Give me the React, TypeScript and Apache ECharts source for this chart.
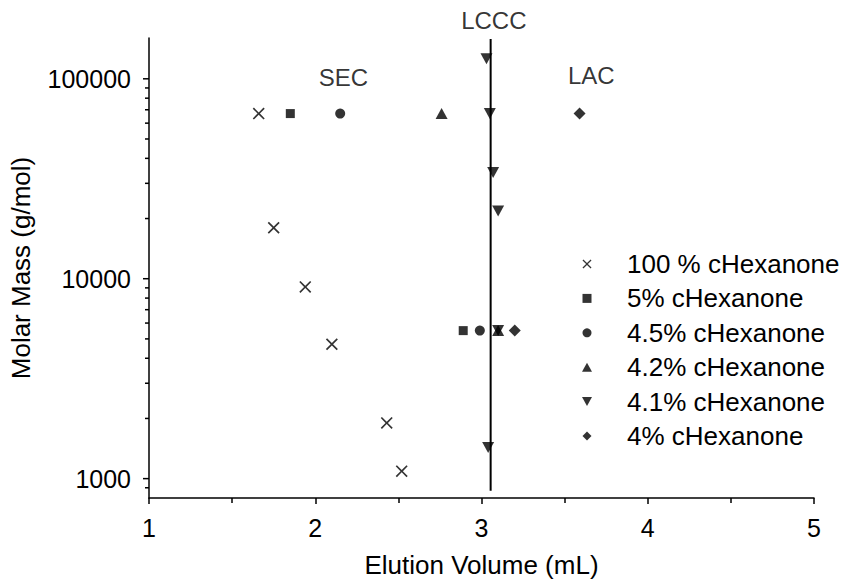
import React, { useEffect, useRef } from "react";
import * as echarts from "echarts";

// ---- data ----
const hex100: number[][] = [[1.66, 67000], [1.75, 18000], [1.94, 9100], [2.10, 4700], [2.43, 1900], [2.52, 1090]];
const hex5: number[][] = [[1.85, 67000], [2.89, 5500]];
const hex45: number[][] = [[2.15, 67000], [2.99, 5500]];
const hex42: number[][] = [[2.76, 67000], [3.10, 5500]];
const hex41: number[][] = [[3.03, 126000], [3.05, 67000], [3.07, 34000], [3.10, 21800], [3.10, 5500], [3.04, 1430]];
const hex4: number[][] = [[3.59, 67000], [3.20, 5500]];
const lcccLine: number[][] = [[3.055, 870], [3.055, 158000]];
const annotations = [
  { name: "SEC", value: [2.17, 102000] },
  { name: "LCCC", value: [3.074, 195000] },
  { name: "LAC", value: [3.66, 104000] },
];
const seriesNames = ["100 % cHexanone", "5% cHexanone", "4.5% cHexanone", "4.2% cHexanone", "4.1% cHexanone", "4% cHexanone"];
const yMajorTicks = [1000, 10000, 100000];
const yMinorTicks = [900, 2000, 3000, 4000, 5000, 6000, 7000, 8000, 9000, 20000, 30000, 40000, 50000, 60000, 70000, 80000, 90000];

const FONT = "'Liberation Sans', Arial, Helvetica, sans-serif";
const SYM_X = "path://M0,1L1,0L5,4L9,0L10,1L6,5L10,9L9,10L5,6L1,10L0,9L4,5Z";
const SYM_SQ = "path://M0,0L10,0L10,10L0,10Z";
const SYM_UP = "path://M5,0L10,9L0,9Z";
const SYM_DN = "path://M0,0L10,0L5,9Z";
const SYM_DI = "path://M5,0L10,5L5,10L0,5Z";

export default function App() {
  const ref = useRef<HTMLDivElement>(null);
  useEffect(() => {
    if (!ref.current) return;
    const chart = echarts.init(ref.current, undefined, { renderer: "svg" });
    const scat = (name: string, data: number[][], symbol: string, size: number | number[]) => ({
      type: "scatter",
      name,
      data,
      symbol,
      symbolSize: size,
      itemStyle: { color: "#000" },
      z: 5,
    });
    const tickData = [
      ...yMajorTicks.map((v) => [1, v, 1]),
      ...yMinorTicks.map((v) => [1, v, 0]),
    ];
    chart.setOption({
      animation: false,
      backgroundColor: "#fff",
      textStyle: { fontFamily: FONT, color: "#000" },
      grid: { left: 148, right: 27, top: 38, bottom: 82, containLabel: false },
      legend: {
        orient: "vertical",
        left: 577,
        top: 246,
        itemWidth: 70,
        itemHeight: 9,
        itemGap: 8.4,
        data: seriesNames,
        textStyle: { fontSize: 26, fontFamily: FONT, color: "#000" },
      },
      xAxis: {
        type: "value",
        min: 1,
        max: 5,
        interval: 1,
        name: "Elution Volume (mL)",
        nameLocation: "middle",
        nameGap: 54,
        nameTextStyle: { fontSize: 26, fontFamily: FONT, color: "#000" },
        axisLine: { show: true, onZero: false, lineStyle: { color: "#000", width: 1.5 } },
        axisTick: { show: true, inside: false, length: 6, lineStyle: { color: "#000", width: 1.5 } },
        minorTick: { show: true, splitNumber: 2, length: 5, lineStyle: { color: "#000", width: 1.5 } },
        axisLabel: { fontSize: 25, fontFamily: FONT, color: "#000", margin: 17 },
        splitLine: { show: false },
      },
      yAxis: {
        type: "log",
        logBase: 10,
        min: 800,
        max: 160000,
        name: "Molar Mass (g/mol)",
        nameLocation: "middle",
        nameGap: 115,
        nameRotate: 90,
        nameTextStyle: { fontSize: 26, fontFamily: FONT, color: "#000" },
        axisLine: { show: true, onZero: false, lineStyle: { color: "#000", width: 1.5 } },
        axisTick: { show: false },
        minorTick: { show: false },
        axisLabel: {
          fontSize: 25,
          fontFamily: FONT,
          color: "#000",
          margin: 18,
          showMinLabel: false,
          showMaxLabel: false,
          formatter: (v: number) => String(Math.round(v)),
        },
        splitLine: { show: false },
      },
      series: [
        {
          type: "custom",
          name: "yticks",
          data: tickData,
          encode: { x: 0, y: 1 },
          clip: false,
          silent: true,
          renderItem: (params: any, api: any) => {
            const p = api.coord([api.value(0), api.value(1)]);
            const len = api.value(2) ? 6 : 4;
            return {
              type: "line",
              shape: { x1: p[0] - len, y1: p[1], x2: p[0], y2: p[1] },
              style: { stroke: "#000", lineWidth: 1.5 },
            };
          },
        },
        {
          type: "line",
          name: "LCCC line",
          data: lcccLine,
          symbol: "none",
          lineStyle: { color: "#000", width: 2 },
          z: 3,
        },
        scat(seriesNames[0], hex100, SYM_X, 12),
        scat(seriesNames[1], hex5, SYM_SQ, 9),
        scat(seriesNames[2], hex45, "circle", 10),
        scat(seriesNames[3], hex42, SYM_UP, [12, 11]),
        scat(seriesNames[4], hex41, SYM_DN, [12, 11]),
        scat(seriesNames[5], hex4, SYM_DI, [12, 12]),
        {
          type: "scatter",
          name: "labels",
          data: annotations,
          symbolSize: 1,
          itemStyle: { color: "transparent" },
          clip: false,
          silent: true,
          label: {
            show: true,
            position: "inside",
            formatter: "{b}",
            fontSize: 24,
            fontFamily: FONT,
            color: "#000",
          },
        },
      ],
    });
    return () => chart.dispose();
  }, []);
  return <div ref={ref} style={{ position: "fixed", left: 0, top: 0, width: 841, height: 583 }} />;
}
